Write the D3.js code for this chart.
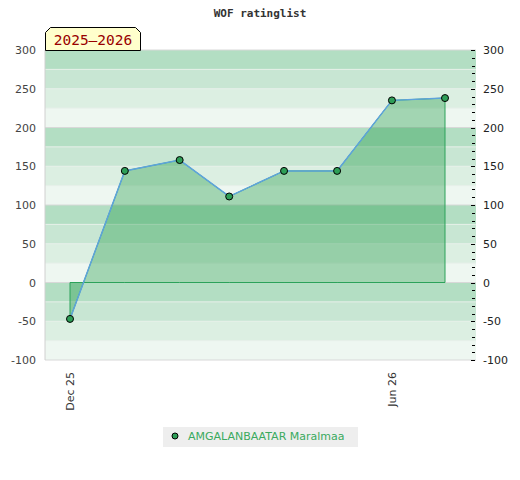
<!DOCTYPE html>
<html><head><meta charset="utf-8">
<script src="https://cdn.jsdelivr.net/npm/d3@7"></script>
<style>body{margin:0;background:#fff}svg{display:block}</style>
</head><body>
<script>
const dates = ["2025-12-01","2026-01-01","2026-02-01","2026-03-01","2026-04-01","2026-05-01","2026-06-01","2026-07-01"];
const ratings = [-47, 144, 158, 111, 144, 144, 235, 238];
const yTicks = [-100, -50, 0, 50, 100, 150, 200, 250, 300];
const xTickDates = ["2025-12-01", "2026-06-01"];
const xTickLabels = ["Dec 25", "Jun 26"];
const seriesName = "AMGALANBAATAR Maralmaa";
const title = "WOF ratinglist";
const seasonLabel = "2025–2026";

const W = 520, H = 480;
const L = 45, R = 476, T = 50, B = 360;
const parse = d3.utcParse("%Y-%m-%d");
const data = dates.map((d, i) => ({ date: parse(d), v: ratings[i] }));

const svg = d3.select("body").append("svg").attr("width", W).attr("height", H);

const y = d3.scaleLinear().domain([-100, 300]).range([B, T]);
const x = d3.scaleUtc().domain([parse(dates[0]), parse(dates[dates.length - 1])]).range([70, 445]);

// bands
const bandColors = ["#eef7f1", "#dcefe2", "#c8e6d3", "#b3dec3"];
const bands = d3.range(-100, 300, 25);
svg.append("g").selectAll("rect").data(bands).join("rect")
  .attr("x", L).attr("width", R - L)
  .attr("y", d => y(d + 25)).attr("height", d => y(d) - y(d + 25))
  .attr("fill", d => bandColors[((d + 100) / 25) % 4]);
svg.append("g").selectAll("line").data(d3.range(-75, 300, 25)).join("line")
  .attr("x1", L).attr("x2", R).attr("y1", d => y(d)).attr("y2", d => y(d))
  .attr("stroke", d => d % 100 === 0 ? "#d8d8d8" : "#e6efe9").attr("stroke-width", 1);
svg.append("line").attr("x1", L).attr("x2", R).attr("y1", y(300)).attr("y2", y(300)).attr("stroke", "#d8d8d8");
svg.append("line").attr("x1", L).attr("x2", R).attr("y1", y(-100)).attr("y2", y(-100)).attr("stroke", "#d8d8d8");
svg.append("line").attr("x1", L).attr("x2", L).attr("y1", T).attr("y2", B).attr("stroke", "#d0d0d0");

// area
const area = d3.area().x(d => x(d.date)).y0(y(0)).y1(d => y(d.v));
svg.append("path").datum(data).attr("d", area)
  .attr("fill", "rgba(20,150,60,0.35)").attr("stroke", "#2ca25a").attr("stroke-width", 1);
const line = d3.line().x(d => x(d.date)).y(d => y(d.v));
svg.append("path").datum(data).attr("d", line)
  .attr("fill", "none").attr("stroke", "#5ea3dc").attr("stroke-width", 1.5);
svg.append("g").selectAll("circle").data(data).join("circle")
  .attr("cx", d => x(d.date)).attr("cy", d => y(d.v)).attr("r", 3.5)
  .attr("fill", "#2e9e57").attr("stroke", "#000").attr("stroke-width", 1);

// left axis labels
const font = "DejaVu Sans, sans-serif";
svg.append("g").selectAll("text").data(yTicks).join("text")
  .attr("x", 36).attr("y", d => y(d) + 4).attr("text-anchor", "end")
  .attr("font-family", font).attr("font-size", 11).attr("fill", "#444").text(d => d);
// right axis
svg.append("g").selectAll("text").data(yTicks).join("text")
  .attr("x", 483).attr("y", d => y(d) + 4).attr("text-anchor", "start")
  .attr("font-family", font).attr("font-size", 11).attr("fill", "#222").text(d => d);
svg.append("g").selectAll("line").data(d3.range(-100, 301, 10)).join("line")
  .attr("x1", d => d % 50 === 0 ? 471 : 472).attr("x2", 475)
  .attr("y1", d => Math.round(y(d)) + 0.5).attr("y2", d => Math.round(y(d)) + 0.5)
  .attr("stroke", "#000").attr("stroke-width", 1);

// x labels
svg.append("g").selectAll("text").data(xTickDates).join("text")
  .attr("transform", d => `translate(${x(parse(d)) + 4},372) rotate(-90)`)
  .attr("text-anchor", "end").attr("font-family", font).attr("font-size", 11).attr("fill", "#333")
  .text((d, i) => xTickLabels[i]);

// title
svg.append("text").attr("x", 260).attr("y", 17).attr("text-anchor", "middle")
  .attr("font-family", "DejaVu Sans Mono, monospace").attr("font-weight", "bold")
  .attr("font-size", 11).attr("fill", "#333").text(title);

// season label
const bx0 = 45.5, bx1 = 140.5, by0 = 27.5, by1 = 50.5, c = 5;
svg.append("path")
  .attr("d", `M${bx0},${by1} L${bx0},${by0 + c} L${bx0 + c},${by0} L${bx1 - c},${by0} L${bx1},${by0 + c} L${bx1},${by1} Z`)
  .attr("fill", "#ffffcc").attr("stroke", "#000").attr("stroke-width", 1);
svg.append("text").attr("x", 93).attr("y", 45).attr("text-anchor", "middle")
  .attr("font-family", "DejaVu Sans Mono, monospace").attr("font-size", 14.5).attr("fill", "#990000")
  .text(seasonLabel);

// legend
svg.append("rect").attr("x", 163).attr("y", 427).attr("width", 195).attr("height", 20).attr("fill", "#eeeeee");
svg.append("circle").attr("cx", 175).attr("cy", 436).attr("r", 3).attr("fill", "#2e9e57").attr("stroke", "#000");
svg.append("text").attr("x", 188).attr("y", 440).attr("font-family", font).attr("font-size", 11)
  .attr("fill", "#3aaa5e").text(seriesName);
</script>
</body></html>
